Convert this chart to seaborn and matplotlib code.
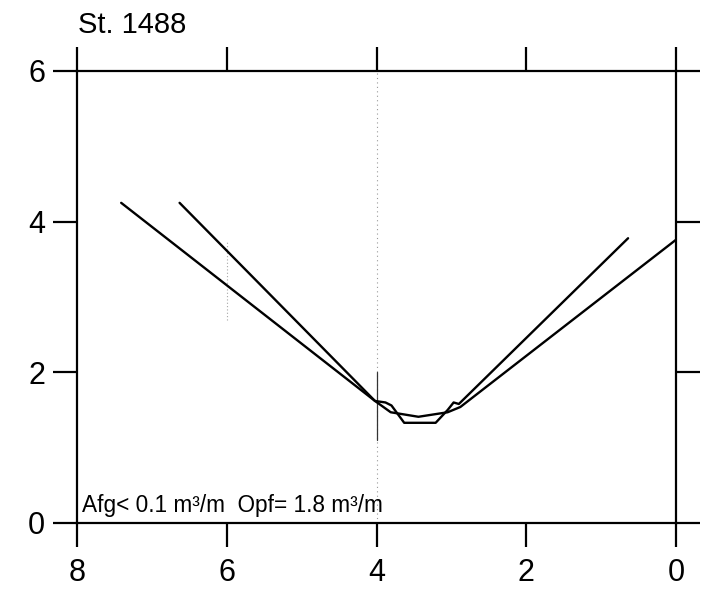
import pandas as pd
import numpy as np
import matplotlib
matplotlib.use("Agg")
import matplotlib.pyplot as plt
import seaborn as sns

# profile data (distance vs depth)
profile_a_x = [7.41, 4.02, 3.81, 3.44, 3.05, 2.88, 0.0]
profile_a_y = [4.25, 1.62, 1.47, 1.41, 1.47, 1.54, 3.76]

profile_b_x = [6.63, 4.02, 3.88, 3.80, 3.63, 3.21, 3.05, 2.97, 2.90, 0.64]
profile_b_y = [4.25, 1.62, 1.60, 1.56, 1.33, 1.33, 1.50, 1.60, 1.58, 3.78]

station_label = "St. 1488"
volume_note = "Afg< 0.1 m³/m  Opf= 1.8 m³/m"
x_ticks = [8, 6, 4, 2, 0]
y_ticks = [0, 2, 4, 6]

sns.set_style("ticks")
plt.rcParams['font.family'] = ['Liberation Sans', 'DejaVu Sans']

df = pd.concat([
    pd.DataFrame({'dist': profile_a_x, 'depth': profile_a_y, 'profile': 'a'}),
    pd.DataFrame({'dist': profile_b_x, 'depth': profile_b_y, 'profile': 'b'}),
], ignore_index=True)

fig = plt.figure(figsize=(7.11, 5.91), dpi=100)
ax = fig.add_axes([77/711, 1 - 523/591, (676 - 77)/711, (523 - 71)/591])

sns.lineplot(data=df, x='dist', y='depth', units='profile', estimator=None,
             sort=False, color='black', linewidth=1.7, ax=ax)

# faint marker lines that show up on the original print
ax.axvline(4, color='0.6', lw=0.8, ls=(0, (1, 3)), zorder=0)
ax.plot([4, 4], [1.1, 2.0], color='0.2', lw=0.9, zorder=0)
ax.plot([6, 6], [2.7, 3.75], color='0.65', lw=0.8, ls=(0, (1, 2)), zorder=0)

ax.set_xlim(8, 0)
ax.set_ylim(0, 6)
ax.set_xticks(x_ticks)
ax.set_yticks(y_ticks)
ax.set_xlabel('')
ax.set_ylabel('')

for side in ['top', 'bottom', 'left', 'right']:
    ax.spines[side].set_visible(True)
    ax.spines[side].set_linewidth(1.6)
    ax.spines[side].set_color('black')

ax.tick_params(which='major', direction='out', length=17, width=1.6,
               top=True, right=True, labeltop=False, labelright=False,
               labelsize=22, colors='black')
ax.tick_params(axis='x', pad=8)
ax.tick_params(axis='y', pad=6)

fig.text(78/711, 1 - 33/591, station_label, fontsize=21, color='black',
         ha='left', va='baseline')
ax.text(7.93, 0.15, volume_note, fontsize=16.3, color='black',
        ha='left', va='baseline')

fig.savefig('out.png', dpi=100)
